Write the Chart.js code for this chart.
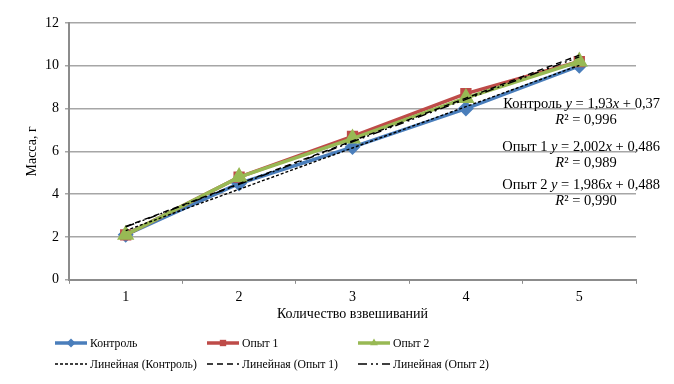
<!DOCTYPE html>
<html>
<head>
<meta charset="utf-8">
<script src="https://cdn.jsdelivr.net/npm/chart.js@4/dist/chart.umd.min.js"></script>
<style>
  html, body { margin: 0; padding: 0; background: #fff; }
  #wrap { width: 674px; height: 384px; }
</style>
</head>
<body>
<div id="wrap"><canvas id="massChart" width="674" height="384"></canvas></div>
<script>
const categories = ['1', '2', '3', '4', '5'];
const kontrol = [2.1, 4.5, 6.2, 8.0, 10.0];
const opyt1 = [2.1, 4.8, 6.7, 8.7, 10.2];
const opyt2 = [2.1, 4.8, 6.6, 8.5, 10.2];
// trend lines
const trendKontrol = [2.3, 4.23, 6.16, 8.09, 10.02];
const trendOpyt1 = [2.49, 4.49, 6.49, 8.49, 10.5];
const trendOpyt2 = [2.47, 4.46, 6.45, 8.43, 10.42];
const legendLabels = ['Контроль', 'Опыт 1', 'Опыт 2', 'Линейная (Контроль)', 'Линейная (Опыт 1)', 'Линейная (Опыт 2)'];
const trendNotes = [
	['Контроль ', '1,93', '0,37', '0,996'],
	['Опыт 1 ', '2,002', '0,486', '0,989'],
	['Опыт 2 ', '1,986', '0,488', '0,990']
];

const serif = "'Liberation Serif', 'Times New Roman', serif";
const blue = '#4A7EBB';
const red = '#BE4B48';
const green = '#98B954';

// equations on the right side
const notesPlugin = {
	id: 'notes',
	afterDraw(chart) {
		let ctx = chart.ctx;
		ctx.save();
		ctx.fillStyle = '#000';
		ctx.textBaseline = 'alphabetic';
		let right = 660;
		let rows = [108, 151, 189];
		let fs = '14.5px ';
		for (let i = 0; i < trendNotes.length; i++) {
			let n = trendNotes[i];
			let parts = [
				[n[0], ''], ['y', 'italic '], [' = ' + n[1], ''], ['x', 'italic '], [' + ' + n[2], '']
			];
			let w = 0;
			parts.forEach(p => { ctx.font = p[1] + fs + serif; w += ctx.measureText(p[0]).width; });
			let x = right - w;
			parts.forEach(p => {
				ctx.font = p[1] + fs + serif;
				ctx.fillText(p[0], x, rows[i]);
				x += ctx.measureText(p[0]).width;
			});
			// R² line
			ctx.font = 'italic ' + fs + serif;
			let rw = ctx.measureText('R').width;
			ctx.font = fs + serif;
			let rest = '² = ' + n[3];
			let tw = rw + ctx.measureText(rest).width;
			let rx = 586 - tw / 2;
			ctx.font = 'italic ' + fs + serif;
			ctx.fillText('R', rx, rows[i] + 16);
			ctx.font = fs + serif;
			ctx.fillText(rest, rx + rw, rows[i] + 16);
		}
		ctx.restore();
	}
};

// two-row legend under the chart
const legendPlugin = {
	id: 'bottomLegend',
	afterDraw(chart) {
		let ctx = chart.ctx;
		let cols = [55, 207, 358];
		let rowsY = [343, 364];
		ctx.save();
		chart.data.datasets.forEach((ds, i) => {
			let x = cols[i % 3];
			let y = rowsY[Math.floor(i / 3)];
			ctx.strokeStyle = ds.borderColor;
			ctx.lineWidth = Math.min(ds.borderWidth, 3.5);
			ctx.setLineDash(ds.borderDash || []);
			ctx.beginPath();
			ctx.moveTo(x, y);
			ctx.lineTo(x + 32, y);
			ctx.stroke();
			ctx.setLineDash([]);
			if (ds.pointRadius > 0) {
				ctx.fillStyle = ds.pointBackgroundColor;
				Chart.helpers.drawPoint(ctx, {pointStyle: ds.pointStyle, radius: 4.5, borderWidth: 0}, x + 16, y);
			}
			// the legend text is a bit condensed in the original
			ctx.save();
			ctx.translate(x + 35, y + 1);
			ctx.scale(0.9, 1);
			ctx.fillStyle = '#000';
			ctx.font = '13px ' + serif;
			ctx.textBaseline = 'middle';
			ctx.fillText(legendLabels[i], 0, 0);
			ctx.restore();
		});
		ctx.restore();
	}
};

const config = {
	type: 'line',
	data: {
		labels: categories,
		datasets: [
			{
				label: legendLabels[0], data: kontrol, borderColor: blue, backgroundColor: blue,
				pointBackgroundColor: blue, pointBorderColor: blue, borderWidth: 3.5,
				pointStyle: 'rectRot', pointRadius: 5.5, order: 5
			},
			{
				label: legendLabels[1], data: opyt1, borderColor: red, backgroundColor: red,
				pointBackgroundColor: red, pointBorderColor: red, borderWidth: 3.5,
				pointStyle: 'rect', pointRadius: 5.5, order: 4
			},
			{
				label: legendLabels[2], data: opyt2, borderColor: green, backgroundColor: green,
				pointBackgroundColor: green, pointBorderColor: green, borderWidth: 3.5,
				pointStyle: 'triangle', pointRadius: 6.5, order: 3
			},
			{
				label: legendLabels[3], data: trendKontrol, borderColor: '#000', borderWidth: 1.4,
				borderDash: [3, 2], pointRadius: 0, order: 2
			},
			{
				label: legendLabels[4], data: trendOpyt1, borderColor: '#000', borderWidth: 1.4,
				borderDash: [6, 4], pointRadius: 0, order: 1
			},
			{
				label: legendLabels[5], data: trendOpyt2, borderColor: '#000', borderWidth: 1.4,
				borderDash: [9, 4, 2, 3, 2, 4], pointRadius: 0, order: 0
			}
		]
	},
	options: {
		responsive: false,
		animation: false,
		layout: {
			padding: {left: 25, right: 38, top: 23, bottom: 68}
		},
		scales: {
			x: {
				type: 'category',
				offset: true,
				grid: {
					offset: true,
					drawOnChartArea: false,
					drawTicks: true,
					tickLength: 4,
					color: '#8c8c8c'
				},
				border: {color: '#8c8c8c', width: 2},
				ticks: {
					color: '#000',
					font: {family: serif, size: 14, lineHeight: 1},
					padding: 7
				},
				title: {
					display: true,
					text: 'Количество взвешиваний',
					color: '#000',
					font: {family: serif, size: 14, lineHeight: 0.3},
					padding: {top: 0, bottom: 0}
				}
			},
			y: {
				min: 0,
				max: 12,
				ticks: {
					stepSize: 2,
					color: '#000',
					font: {family: serif, size: 14},
					padding: 6
				},
				grid: {
					color: '#a6a6a6',
					lineWidth: 1.5,
					tickLength: 4
				},
				border: {color: '#8c8c8c', width: 2},
				title: {
					display: true,
					text: 'Масса, г',
					color: '#000',
					font: {family: serif, size: 14, lineHeight: 1},
					padding: {top: 0, bottom: 0}
				}
			}
		},
		plugins: {
			legend: {display: false},
			tooltip: {enabled: false}
		}
	},
	plugins: [notesPlugin, legendPlugin]
};

new Chart(document.getElementById('massChart'), config);
</script>
</body>
</html>
